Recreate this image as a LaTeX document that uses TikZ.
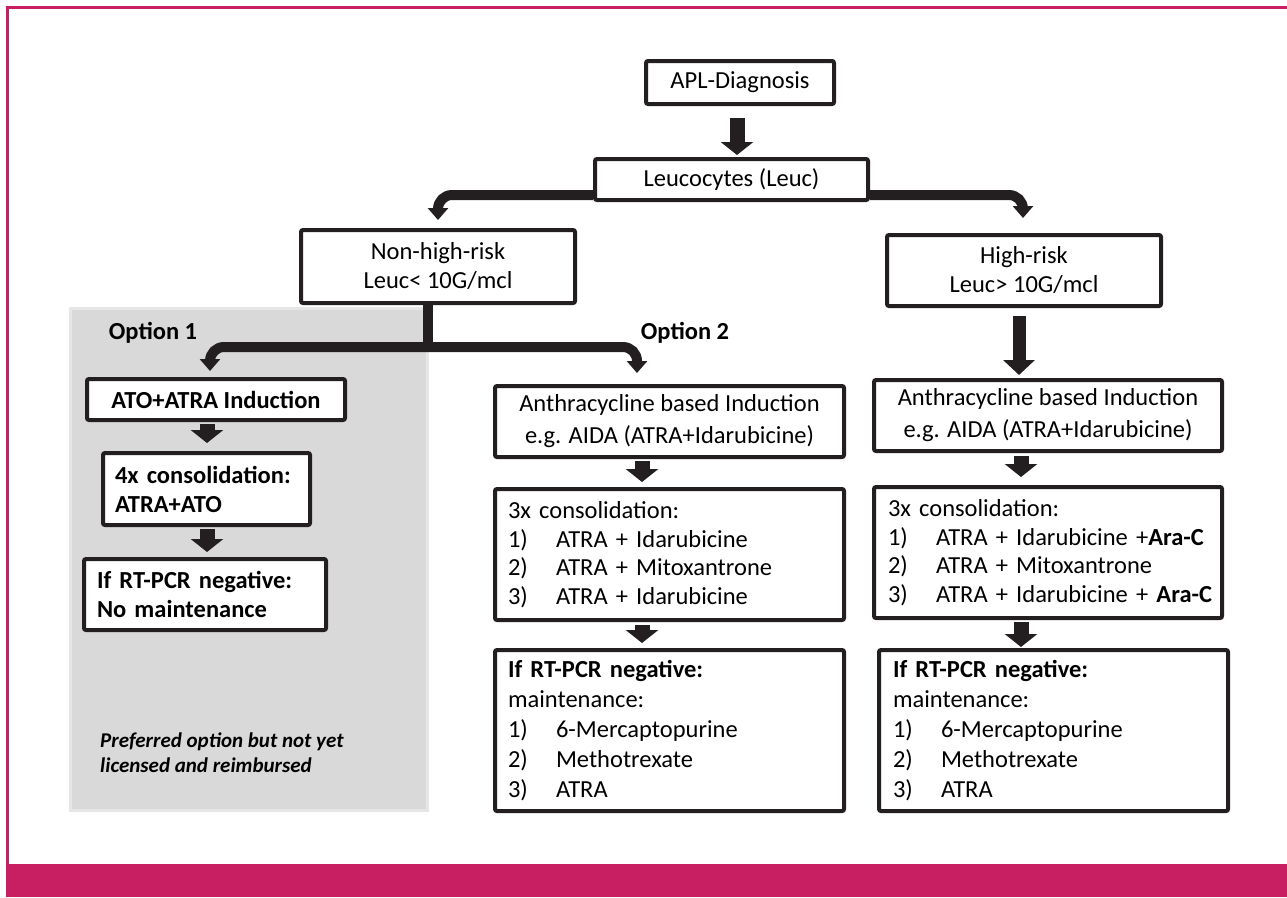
\documentclass[tikz,border=0pt]{standalone}
\usepackage{fontspec}
\setmainfont{Carlito}
\usetikzlibrary{arrows.meta,calc}
\definecolor{mag}{HTML}{C81E62}
\definecolor{ink}{HTML}{231F20}
\definecolor{greybg}{HTML}{D9D9D9}
\definecolor{greyedge}{HTML}{E6E6E6}
\newcommand\fs{\fontsize{24.5}{29}\selectfont}
\newcommand\itm[2]{\mbox{\makebox[48pt][l]{#1}#2}}
\begin{document}
\begin{tikzpicture}[x=1pt,y=-1pt,font=\fs,
  box/.style={draw=ink, line width=4pt, rounded corners=2pt, fill=white, inner sep=0pt, align=center},
  lbox/.style={box, align=left, inner ysep=0pt},
  varrow/.style={draw=ink, line width=15pt, -{Triangle[width=32pt,length=13pt]}},
  bent/.style={draw=ink, line width=10pt, rounded corners=14pt, -{Triangle[width=20pt,length=12pt]}},
  optlabel/.style={font=\fs\bfseries, inner sep=0pt}]
\useasboundingbox (0,0) rectangle (1287,897);
% frame
\fill[mag] (6,864) rectangle (1287,897);
\draw[mag, line width=3pt] (7.5,864) -- (7.5,7.5) -- (1287,7.5);
% grey option-1 panel
\fill[greybg, draw=greyedge, line width=3pt] (70,308) rectangle (427,810);
% top nodes
\node[box, minimum width=188pt, minimum height=43pt] (apl) at (740,82.5) {APL-Diagnosis};
\node[box, minimum width=273pt, minimum height=41pt] (leuc) at (731.5,179.5) {Leucocytes (Leuc)};
\node[box, minimum width=274pt, minimum height=73pt] (nhr) at (438,266.5) {Non-high-risk\\Leuc< 10G/mcl};
\node[box, minimum width=274pt, minimum height=71pt] (hr) at (1024,270.5) {High-risk\\Leuc> 10G/mcl};
% option labels
\node[optlabel] (opt1) at (153,333) {Option 1};
\node[optlabel] (opt2) at (685,333) {Option 2};
% option 1 column
\node[box, font=\fs\bfseries, minimum width=258pt, minimum height=41pt] (ato) at (216,399.5) {ATO+ATRA Induction};
\node[lbox, font=\fs\bfseries, text width=183pt, inner xsep=12pt, minimum height=72pt] (cons4) at (206.5,489) {4x consolidation:\\ATRA+ATO};
\node[lbox, font=\fs\bfseries, text width=216pt, inner xsep=13pt, minimum height=71pt] (neg1) at (205,594.5) {If RT-PCR negative:\\No maintenance};
\node[font=\fontsize{21}{25}\selectfont\bfseries\itshape, align=left, inner sep=0pt, anchor=west] (pref) at (100,753) {Preferred option but not yet\\licensed and reimbursed};
% option 2 column
\node[box, font=\fontsize{24.5}{32}\selectfont, minimum width=349pt, minimum height=71pt] (anth2) at (669.5,421.5) {Anthracycline based Induction\\e.g. AIDA (ATRA+Idarubicine)};
\node[lbox, font=\fontsize{24.5}{28.5}\selectfont, text width=323pt, inner xsep=13pt, minimum height=131pt] (cons2) at (669.5,554.5) {3x consolidation:\\\itm{1)}{ATRA + Idarubicine}\\\itm{2)}{ATRA + Mitoxantrone}\\\itm{3)}{ATRA + Idarubicine}};
\node[lbox, font=\fontsize{24.5}{30}\selectfont, text width=323pt, inner xsep=13pt, minimum height=161pt] (neg2) at (669.5,730.5) {\textbf{If RT-PCR negative:}\\maintenance:\\\itm{1)}{6-Mercaptopurine}\\\itm{2)}{Methotrexate}\\\itm{3)}{ATRA}};
% high-risk column
\node[box, font=\fontsize{24.5}{32}\selectfont, minimum width=348pt, minimum height=71pt] (anth3) at (1048,415.5) {Anthracycline based Induction\\e.g. AIDA (ATRA+Idarubicine)};
\node[lbox, font=\fontsize{24.5}{28.5}\selectfont, text width=320pt, inner xsep=14pt, minimum height=131pt] (cons3) at (1048,552.5) {3x consolidation:\\\itm{1)}{ATRA + Idarubicine +\textbf{Ara-C}}\\\itm{2)}{ATRA + Mitoxantrone}\\\itm{3)}{ATRA + Idarubicine + \textbf{Ara-C}}};
\node[lbox, font=\fontsize{24.5}{30}\selectfont, text width=321pt, inner xsep=14pt, minimum height=161pt] (neg3) at (1053.5,730.5) {\textbf{If RT-PCR negative:}\\maintenance:\\\itm{1)}{6-Mercaptopurine}\\\itm{2)}{Methotrexate}\\\itm{3)}{ATRA}};
% connectors
\draw[varrow, shorten <=12pt, shorten >=2pt] ([xshift=-3pt]apl.south) -- ([xshift=5.5pt]leuc.north);
\draw[bent, shorten >=8pt] ([yshift=7pt]leuc.south west) -| (nhr.north);
\draw[bent, shorten >=15pt] ([yshift=7pt]leuc.south east) -| ([xshift=-1pt]hr.north);
\coordinate (j) at (428,347);
\draw[ink, line width=10pt] ([xshift=-10pt]nhr.south) -- ([yshift=-5pt]j);
\draw[bent, shorten >=6pt] (j) -| ([xshift=-6pt]ato.north);
\draw[bent, shorten >=11pt] (j) -| ([xshift=-32.5pt]anth2.north);
\draw[varrow, line width=13pt, -{Triangle[width=31pt,length=15pt]}, shorten <=8pt, shorten >=3pt] ([xshift=-5pt]hr.south) -- ([xshift=-29pt]anth3.north);
\draw[varrow, shorten <=2pt, shorten >=5pt] ([xshift=-27.5pt]anth2.south) -- ([xshift=-27.5pt]cons2.north);
\draw[varrow, shorten <=3pt, shorten >=5pt] ([xshift=-27.5pt]cons2.south) -- ([xshift=-27.5pt]neg2.north);
\draw[varrow, shorten <=3pt, shorten >=8pt] ([xshift=-27pt]anth3.south) -- ([xshift=-27pt]cons3.north);
\draw[varrow, shorten <=2pt, shorten >=1pt] ([xshift=-27pt]cons3.south) -- ([xshift=-32.5pt]neg3.north);
\draw[varrow, shorten <=2pt, shorten >=8pt] ([xshift=-9pt]ato.south) -- ([xshift=0.5pt]cons4.north);
\draw[varrow, shorten <=2pt, shorten >=5pt] ([xshift=0.5pt]cons4.south) -- ([xshift=2pt]neg1.north);
\end{tikzpicture}
\end{document}
